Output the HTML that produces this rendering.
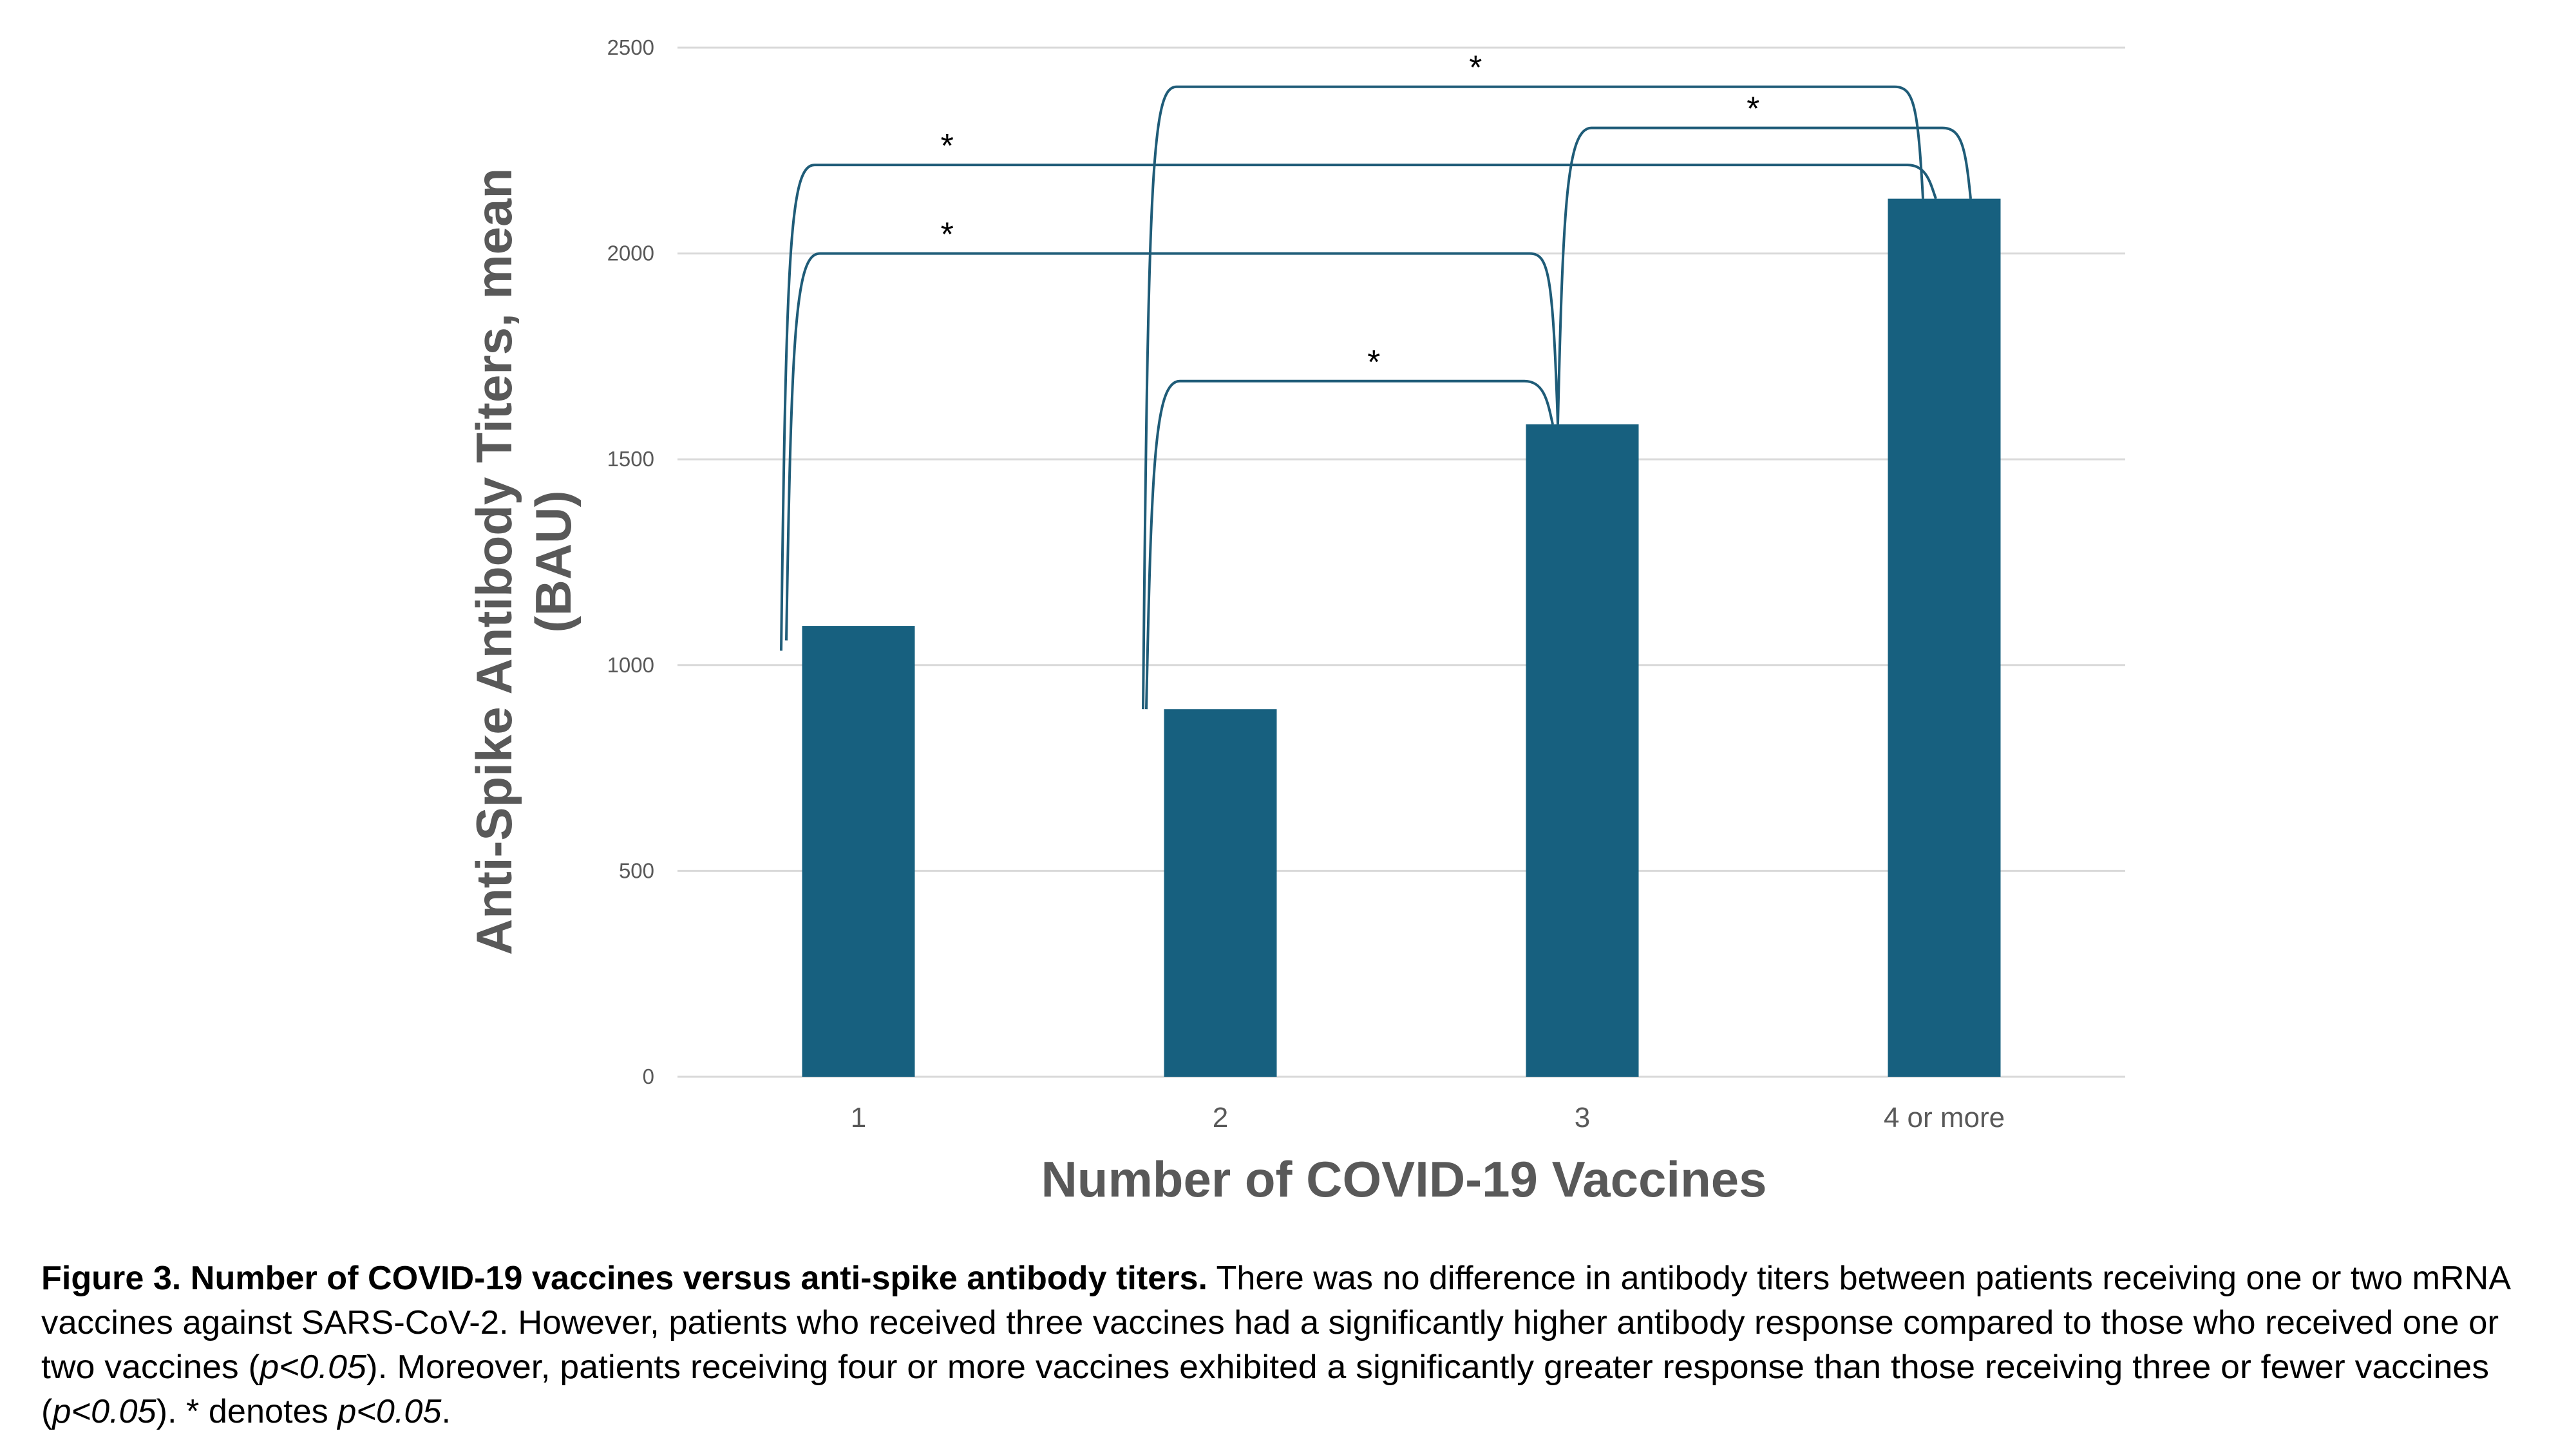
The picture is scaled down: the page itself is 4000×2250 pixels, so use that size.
<!DOCTYPE html>
<html><head><meta charset="utf-8"><style>
html,body{margin:0;padding:0;background:#fff}
svg{display:block}
</style></head><body>
<svg id="chart" width="4000" height="2250" viewBox="0 0 4000 2250" xmlns="http://www.w3.org/2000/svg" font-family="'Liberation Sans', sans-serif">
<g id="grid"></g>
<g id="yticks"></g>
<g id="bars"></g>
<g id="xlabels"></g>
<g id="brackets"></g>
<text x="2180" y="1858" text-anchor="middle" font-size="78" font-weight="bold" fill="#595959">Number of COVID-19 Vaccines</text>
<g transform="translate(816,872) rotate(-90)">
<text x="0" y="-22" text-anchor="middle" font-size="78" font-weight="bold" fill="#595959">Anti-Spike Antibody Titers, mean</text>
<text x="0" y="70" text-anchor="middle" font-size="78" font-weight="bold" fill="#595959">(BAU)</text>
</g>
<g font-size="52" fill="#000">
<text x="64" y="2002" textLength="3835" lengthAdjust="spacingAndGlyphs"><tspan font-weight="bold">Figure 3. Number of COVID-19 vaccines versus anti-spike antibody titers.</tspan> There was no difference in antibody titers between patients receiving one or two mRNA</text>
<text x="64" y="2071" textLength="3816" lengthAdjust="spacingAndGlyphs">vaccines against SARS-CoV-2. However, patients who received three vaccines had a significantly higher antibody response compared to those who received one or</text>
<text x="64" y="2140" textLength="3801" lengthAdjust="spacingAndGlyphs">two vaccines (<tspan font-style="italic">p&lt;0.05</tspan>). Moreover, patients receiving four or more vaccines exhibited a significantly greater response than those receiving three or fewer vaccines</text>
<text x="64" y="2209" textLength="636" lengthAdjust="spacingAndGlyphs">(<tspan font-style="italic">p&lt;0.05</tspan>). * denotes <tspan font-style="italic">p&lt;0.05</tspan>.</text>
</g>
</svg>
<script>
const categories = ["1", "2", "3", "4 or more"];
const values = [1095, 893, 1585, 2133];
const yTicks = [0, 500, 1000, 1500, 2000, 2500];
// significance brackets: from category index, to category index, bracket level, left leg bottom value
const bracketFrom = [0, 0, 1, 1, 2];
const bracketTo = [2, 3, 2, 3, 3];
const bracketLevel = [2000, 2215, 1690, 2405, 2305];
const bracketLeftBottom = [1060, 1035, 893, 893, 1585];
// asterisk horizontal position in category units
const asteriskPos = [0.745, 0.745, 1.924, 2.205, 2.972];

const NS = "http://www.w3.org/2000/svg";
const plotL = 1052, plotR = 3300, y0 = 1672, yTop = 74, yMax = 2500;
const band = (plotR - plotL) / categories.length;
const barW = 175;
function y(v){ return y0 - (v / yMax) * (y0 - yTop); }
function xc(i){ return plotL + band * (i + 0.5); }
function xu(u){ return plotL + band * u; }
function mk(tag, attrs, parent){ const e = document.createElementNS(NS, tag); for (const k in attrs) e.setAttribute(k, attrs[k]); parent.appendChild(e); return e; }

const grid = document.getElementById('grid'), yt = document.getElementById('yticks');
yTicks.forEach(t => {
  const l = mk('line', {x1: plotL, x2: plotR, y1: y(t), y2: y(t), stroke: '#d9d9d9', 'stroke-width': 3}, grid);
  
  
  const tx = mk('text', {x: 1016, y: y(t) + 11, 'text-anchor': 'end', 'font-size': 33, fill: '#595959'}, yt);
  tx.textContent = t;
  
  
});
const bars = document.getElementById('bars'), xl = document.getElementById('xlabels');
categories.forEach((c, i) => {
  const r = mk('rect', {x: xc(i) - barW / 2, y: y(values[i]), width: barW, height: y0 - y(values[i]), fill: '#17607f'}, bars);
  
  
  const t = mk('text', {x: xc(i), y: 1750, 'text-anchor': 'middle', 'font-size': 44, fill: '#595959'}, xl);
  t.textContent = c;
  
  
});
const br = document.getElementById('brackets');
const leftOff = [-112, -120, -115, -120, -38];
const rightOff = [-38, -13, -46, -33, 41];
bracketFrom.forEach((f, k) => {
  const to = bracketTo[k];
  const x1 = xc(f) + leftOff[k], x2 = xc(to) + rightOff[k];
  const yl = y(bracketLevel[k]), yb = y(bracketLeftBottom[k]), ye = y(values[to]);
  const d = `M${x1},${yb} C${x1+8},${yl+120} ${x1+14},${yl} ${x1+52},${yl} L${x2-44},${yl} C${x2-14},${yl} ${x2-8},${yl+30} ${x2},${ye}`;
  const p = mk('path', {d: d, fill: 'none', stroke: '#1f5c78', 'stroke-width': 4}, br);
  
  
  const s = mk('text', {x: xu(asteriskPos[k]), y: yl - 12, 'text-anchor': 'middle', 'font-size': 52, fill: '#000'}, br);
  s.textContent = '*';
  
  
});
</script>
</body></html>
